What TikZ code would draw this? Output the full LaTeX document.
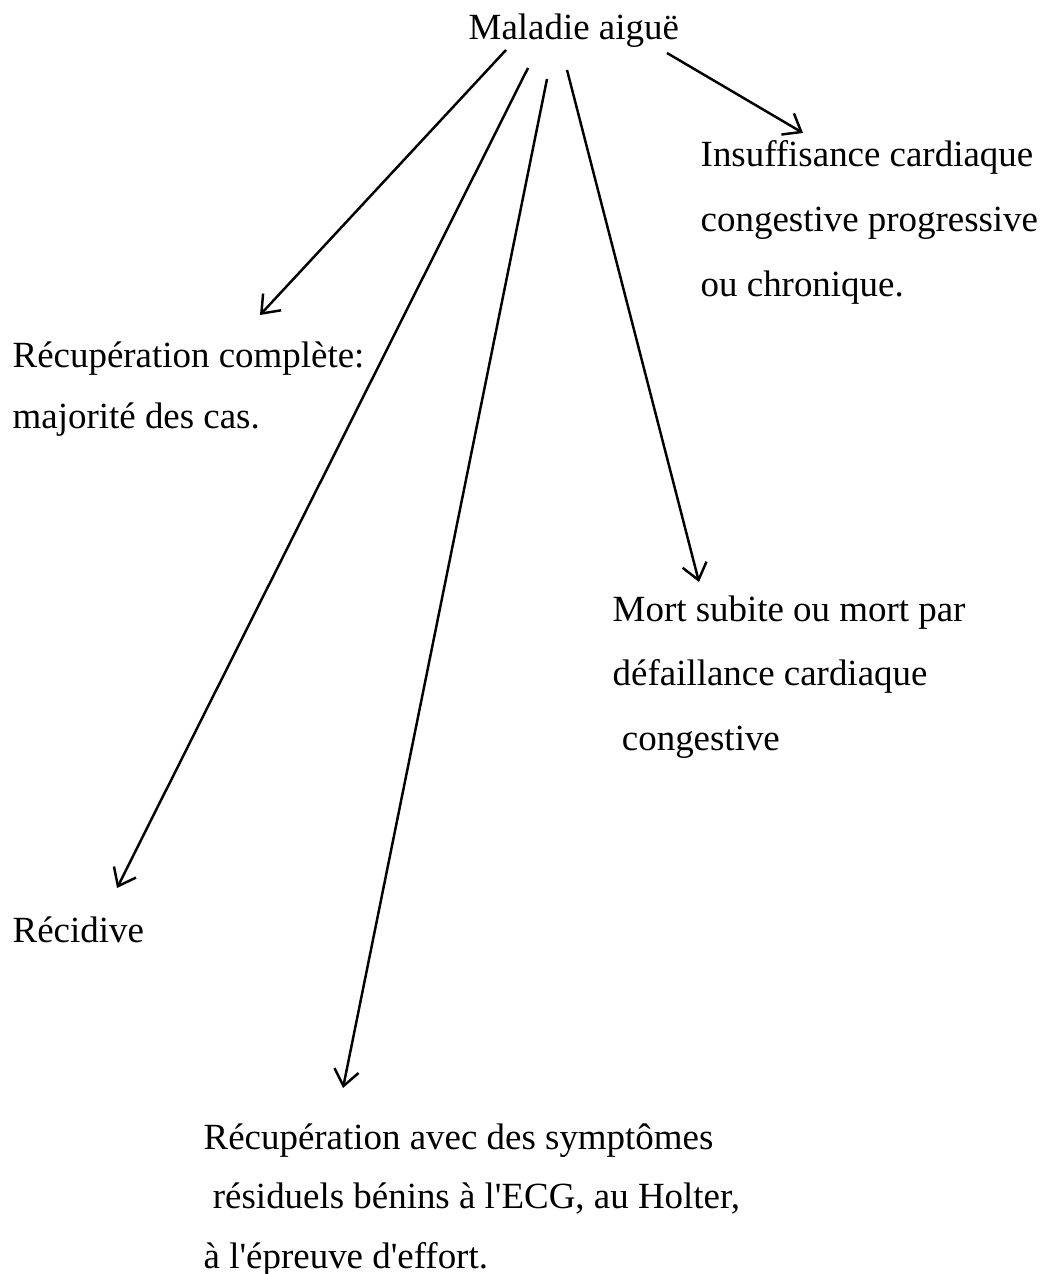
\documentclass[tikz,border=0pt]{standalone}
\usepackage{fontspec}
\setmainfont{Liberation Serif}[Ligatures=TeXOff]
\usetikzlibrary{arrows.meta}

\begin{document}
\begin{tikzpicture}[x=0.01cm, y=-0.01cm,
    txt/.style={inner sep=0pt, anchor=base west, align=left,
      font=\fontsize{10.5}{18.2}\selectfont},
    arr/.style={-{Straight Barb[length=4.5pt,width=7pt]}, line width=0.7pt}]
    \useasboundingbox (0,0) rectangle (1041,1274);
    % Source
    \node[txt] (malad) at (468,40) {Maladie aiguë};
    % Outcomes (placed at the baseline of their last line)
    \node[txt, font=\fontsize{10.5}{18.5}\selectfont] (insuf) at (700,297) {Insuffisance cardiaque\\congestive progressive\\ou chronique.};
    \node[txt, font=\fontsize{10.5}{17.6}\selectfont] (recomp) at (12,429) {Récupération complète:\\majorité des cas.};
    \node[txt] (mort) at (612,750) {Mort subite ou mort par\\défaillance cardiaque\\\ congestive};
    \node[txt] (recid) at (12,942) {Récidive};
    \node[txt, font=\fontsize{10.5}{16.8}\selectfont] (rsymp) at (203,1268)
        {Récupération avec des symptômes\\\ résiduels bénins à l'ECG, au Holter,\\à l'épreuve d'effort.};
    % Arrow ends
    \coordinate (s1) at (506,50);
    \coordinate (s2) at (528,68);
    \coordinate (s3) at (547,79);
    \coordinate (s4) at (567,70);
    \coordinate (s5) at (667,53);
    \coordinate (t1) at (260,315);
    \coordinate (t2) at (117,888);
    \coordinate (t3) at (343,1088);
    \coordinate (t4) at (699,582);
    \coordinate (t5) at (803,133);
    % Arrows
    \draw[arr] (s1) -- (t1);
    \draw[arr] (s2) -- (t2);
    \draw[arr] (s3) -- (t3);
    \draw[arr] (s4) -- (t4);
    \draw[arr] (s5) -- (t5);
\end{tikzpicture}
\end{document}
